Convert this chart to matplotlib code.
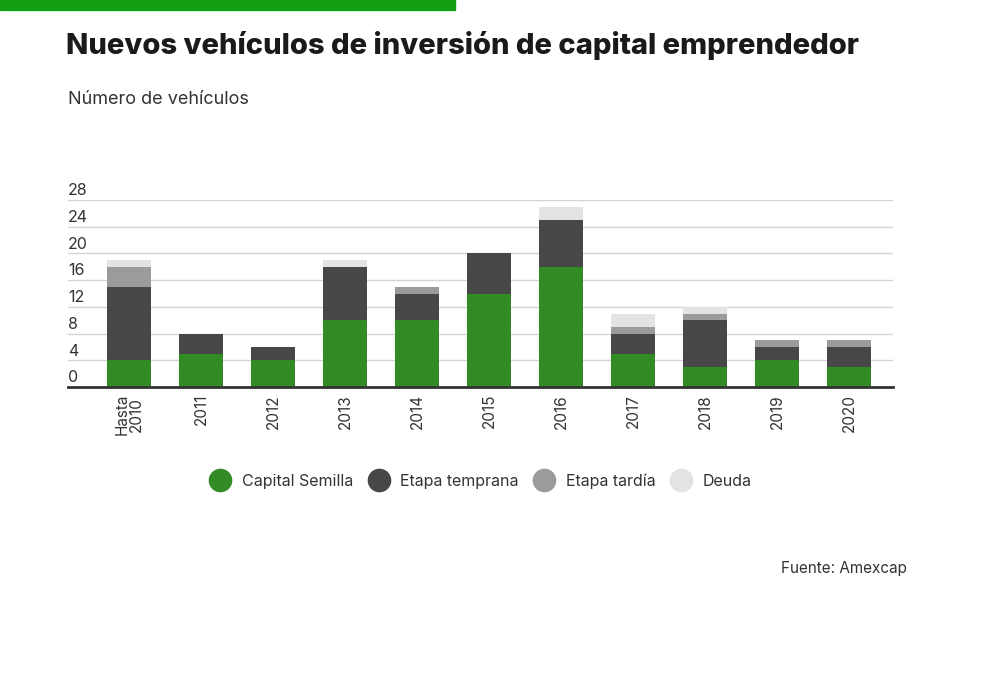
import numpy as np
import matplotlib
matplotlib.use("Agg")
import matplotlib.pyplot as plt
from matplotlib.lines import Line2D
from matplotlib.patches import Rectangle

plt.rcParams["font.family"] = ["Inter", "DejaVu Sans"]

years = ["Hasta\n2010", "2011", "2012", "2013", "2014", "2015",
         "2016", "2017", "2018", "2019", "2020"]
semilla = [4, 5, 4, 10, 10, 14, 18, 5, 3, 4, 3]
temprana = [11, 3, 2, 8, 4, 6, 7, 3, 7, 2, 3]
tardia = [3, 0, 0, 0, 1, 0, 0, 1, 1, 1, 1]
deuda = [1, 0, 0, 1, 0, 0, 2, 2, 1, 0, 0]
series = ["Capital Semilla", "Etapa temprana", "Etapa tardía", "Deuda"]
colors = ["#338b25", "#474747", "#9b9b9b", "#e3e3e3"]
yticks = [0, 4, 8, 12, 16, 20, 24, 28]

fig = plt.figure(figsize=(10, 6.84), dpi=100)

# green strip on top
fig.patches.append(Rectangle((0, 1 - 10 / 684), 0.455, 10 / 684,
                             transform=fig.transFigure, color="#12a012", zorder=5))

fig.text(0.066, 1 - 45 / 684, "Nuevos vehículos de inversión de capital emprendedor",
         fontsize=21, fontweight="heavy", color="#1a1a1a", va="center", ha="left")
fig.text(0.068, 1 - 100 / 684, "Número de vehículos", fontsize=13,
         color="#333333", va="center", ha="left")

ax = fig.add_axes([0.068, 1 - 387 / 684, 0.825, 187 / 684])
x = np.arange(len(years))
bottom = np.zeros(len(years))
for vals, c in zip([semilla, temprana, tardia, deuda], colors):
    ax.bar(x, vals, 0.61, bottom=bottom, color=c, zorder=3)
    bottom += np.array(vals)

ax.set_xlim(-0.85, 10.61)
ax.set_ylim(0, 28)
for s in ["top", "right", "left"]:
    ax.spines[s].set_visible(False)
ax.spines["bottom"].set_color("#333333")
ax.spines["bottom"].set_linewidth(2)
ax.spines["bottom"].set_zorder(4)

ax.set_yticks(yticks)
ax.set_yticklabels([])
ax.tick_params(axis="y", length=0)
ax.grid(axis="y", color="#d4d4d4", linewidth=1, zorder=0)
for t in yticks:
    ax.text(0, t + 0.25, str(t), transform=ax.get_yaxis_transform(),
            ha="left", va="bottom", fontsize=11.5, color="#333333")

ax.set_xticks(x)
ax.set_xticklabels(years, rotation=90, fontsize=11, color="#333333",
                   linespacing=0.9)
ax.tick_params(axis="x", length=0, pad=5)

handles = [Line2D([], [], marker="o", linestyle="none", markersize=16,
                  markerfacecolor=c, markeredgecolor=c) for c in colors]
fig.legend(handles, series, loc="center", bbox_to_anchor=(0.478, 1 - 481 / 684),
           ncol=4, frameon=False, fontsize=11.5, handletextpad=0.35,
           columnspacing=0.6, labelcolor="#333333")

fig.text(0.907, 1 - 568 / 684, "Fuente: Amexcap", fontsize=11, color="#333333",
         ha="right", va="center")

fig.savefig("out.png", dpi=100, facecolor="white")
